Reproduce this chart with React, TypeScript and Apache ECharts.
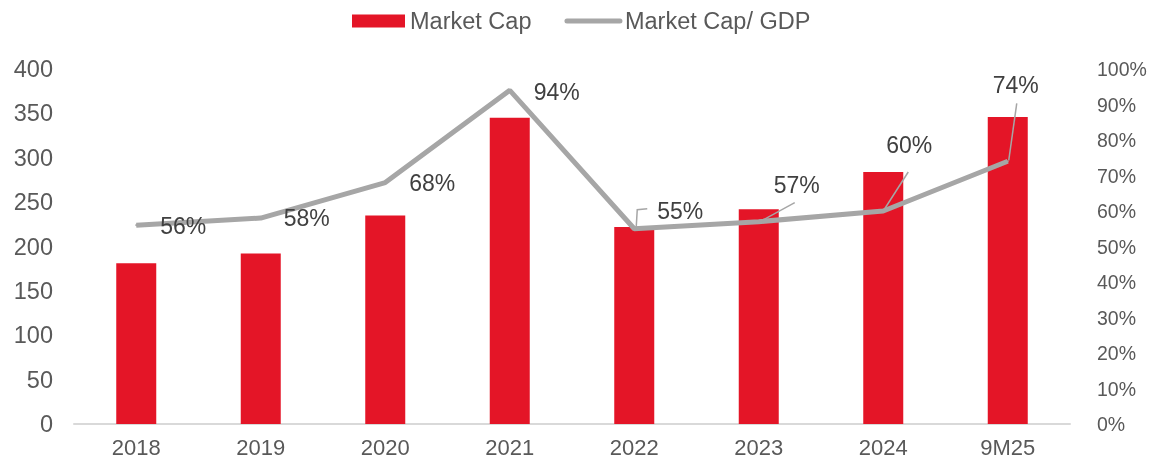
import React, { useEffect, useRef } from "react";
import * as echarts from "echarts";

const categories = ["2018", "2019", "2020", "2021", "2022", "2023", "2024", "9M25"];
const marketCap = [181, 192, 235, 345, 222, 242, 284, 346];
const capToGdp = [0.56, 0.58, 0.68, 0.94, 0.55, 0.57, 0.6, 0.74];
const leftTicks = { min: 0, max: 400, interval: 50 };
const rightTicks = { min: 0, max: 1, interval: 0.1 };

// label offsets (layout only, px relative to each point)
const labelOffsets: [number, number][] = [
  [47, 1], [46, 0], [47, 0], [47, 2], [46, -18], [38, -37], [26, -66], [8, -76],
];
// leader line points relative to each point (layout only)
const leaderPoints: ([number, number][] | null)[] = [
  null, null, null, null,
  [[2, -2], [3, -19], [13, -20]],
  [[3, -1], [36, -19]],
  [[0, 0], [25, -39]],
  [[1, -1], [9, -58]],
];

const FONT = "Liberation Sans, Arial, sans-serif";
const RED = "#E41527";
const GRAY = "#A6A6A6";

export default function App() {
  const ref = useRef<HTMLDivElement>(null);
  useEffect(() => {
    if (!ref.current) return;
    const chart = echarts.init(ref.current, null, { renderer: "svg" });
    chart.setOption({
      animation: false,
      textStyle: { fontFamily: FONT },
      legend: {
        top: 4,
        left: 347,
        itemWidth: 53,
        itemHeight: 13,
        itemGap: 33,
        textStyle: { fontSize: 23.5, color: "#595959", fontFamily: FONT },
        data: [
          { name: "Market Cap", icon: "rect" },
          {
            name: "Market Cap/ GDP",
            itemStyle: { opacity: 0 },
            lineStyle: { color: GRAY, width: 5, cap: "round" },
          },
        ],
      },
      grid: { left: 74, right: 80, top: 69, bottom: 44 },
      xAxis: {
        type: "category",
        data: categories,
        boundaryGap: true,
        axisLine: { lineStyle: { color: "#D9D9D9", width: 2 } },
        axisTick: { show: false },
        axisLabel: { fontSize: 22, color: "#595959", margin: 12, fontFamily: FONT },
      },
      yAxis: [
        {
          type: "value",
          min: leftTicks.min,
          max: leftTicks.max,
          interval: leftTicks.interval,
          splitLine: { show: false },
          axisLine: { show: false },
          axisTick: { show: false },
          axisLabel: { fontSize: 23.5, color: "#595959", margin: 21, fontFamily: FONT },
        },
        {
          type: "value",
          min: rightTicks.min,
          max: rightTicks.max,
          interval: rightTicks.interval,
          splitLine: { show: false },
          axisLine: { show: false },
          axisTick: { show: false },
          axisLabel: {
            fontSize: 19.5,
            color: "#595959",
            margin: 27,
            fontFamily: FONT,
            formatter: (v: number) => Math.round(v * 100) + "%",
          },
        },
      ],
      series: [
        {
          name: "Market Cap",
          type: "bar",
          data: marketCap,
          barWidth: 40,
          itemStyle: { color: RED },
        },
        {
          name: "Market Cap/ GDP",
          type: "line",
          yAxisIndex: 1,
          data: capToGdp.map((v, i) => ({
            value: v,
            label: { offset: labelOffsets[i] },
          })),
          symbol: "circle",
          symbolSize: 2,
          showSymbol: true,
          itemStyle: { color: GRAY },
          lineStyle: { color: GRAY, width: 5 },
          label: {
            show: true,
            position: "inside",
            fontSize: 23,
            color: "#404040",
            fontFamily: FONT,
            formatter: (p: any) => Math.round(p.value * 100) + "%",
          },
          z: 3,
        },
      ],
    });

    const graphics: any[] = [];
    leaderPoints.forEach((pts, i) => {
      if (!pts) return;
      const base = chart.convertToPixel({ seriesIndex: 1 }, [i, capToGdp[i]]) as number[];
      graphics.push({
        type: "polyline",
        shape: { points: pts.map(([dx, dy]) => [base[0] + dx, base[1] + dy]) },
        style: { stroke: GRAY, lineWidth: 1.5, fill: "none" },
        z: 10,
      });
    });
    chart.setOption({ graphic: graphics });

    return () => chart.dispose();
  }, []);
  return (
    <div
      ref={ref}
      style={{ position: "fixed", left: 0, top: 0, width: 1150, height: 468 }}
    />
  );
}
